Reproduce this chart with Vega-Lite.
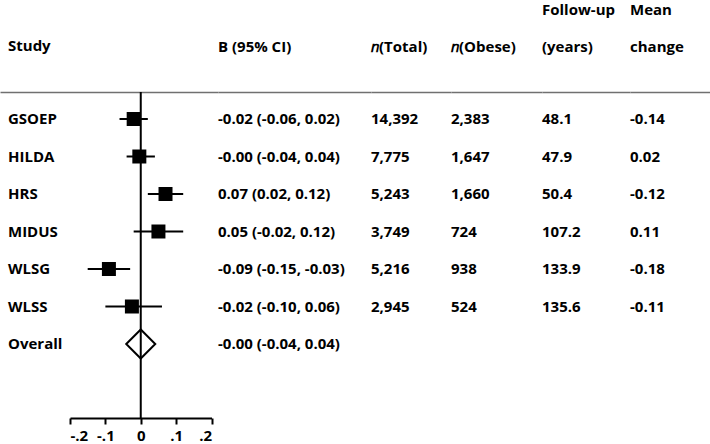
{
  "$schema": "https://vega.github.io/schema/vega-lite/v6.json",
  "padding": {"top": 3, "left": 0, "right": 0, "bottom": 0},
  "spacing": 0,
  "bounds": "flush",
  "config": {
    "font": "Open Sans",
    "view": {"stroke": null},
    "title": {"anchor": "start", "frame": "group", "fontSize": 15, "fontWeight": "bold", "font": "Open Sans", "color": "black", "lineHeight": 37, "offset": 37, "baseline": "bottom"},
    "axis": {"domainColor": "#707070", "domainWidth": 1.5, "grid": false},
    "text": {"align": "left", "baseline": "middle", "fontSize": 15, "fontWeight": "bold", "font": "Open Sans", "color": "black"}
  },
  "datasets": {
    "rows": [
      {"study": "GSOEP", "type": "study", "b": -0.02, "lo": -0.06, "hi": 0.02, "ci": "-0.02 (-0.06, 0.02)", "n_total": "14,392", "n_obese": "2,383", "followup": "48.1", "change": "-0.14"},
      {"study": "HILDA", "type": "study", "b": -0.004, "lo": -0.04, "hi": 0.04, "ci": "-0.00 (-0.04, 0.04)", "n_total": "7,775", "n_obese": "1,647", "followup": "47.9", "change": "0.02"},
      {"study": "HRS", "type": "study", "b": 0.07, "lo": 0.02, "hi": 0.12, "ci": "0.07 (0.02, 0.12)", "n_total": "5,243", "n_obese": "1,660", "followup": "50.4", "change": "-0.12"},
      {"study": "MIDUS", "type": "study", "b": 0.05, "lo": -0.02, "hi": 0.12, "ci": "0.05 (-0.02, 0.12)", "n_total": "3,749", "n_obese": "724", "followup": "107.2", "change": "0.11"},
      {"study": "WLSG", "type": "study", "b": -0.09, "lo": -0.15, "hi": -0.03, "ci": "-0.09 (-0.15, -0.03)", "n_total": "5,216", "n_obese": "938", "followup": "133.9", "change": "-0.18"},
      {"study": "WLSS", "type": "study", "b": -0.025, "lo": -0.10, "hi": 0.06, "ci": "-0.02 (-0.10, 0.06)", "n_total": "2,945", "n_obese": "524", "followup": "135.6", "change": "-0.11"},
      {"study": "Overall", "type": "overall", "b": 0.0, "lo": -0.04, "hi": 0.04, "ci": "-0.00 (-0.04, 0.04)", "n_total": "", "n_obese": "", "followup": "", "change": ""}
    ]
  },
  "hconcat": [
    {
      "width": 218,
      "height": 326,
      "title": {"text": "Study", "dx": 8},
      "data": {"name": "rows"},
      "layer": [
        {
          "transform": [{"filter": "datum.type == 'study'"}],
          "mark": {"type": "rule", "strokeWidth": 2, "color": "black"},
          "encoding": {
            "x": {"field": "lo", "type": "quantitative", "scale": {"domain": [-0.2, 0.2], "range": [70, 211.5], "nice": false, "zero": false}, "axis": {"orient": "bottom", "values": [-0.2, -0.1, 0, 0.1, 0.2], "labelExpr": "datum.value == 0 ? '0' : (datum.value < 0 ? '-' : '') + '.' + round(abs(datum.value) * 10)", "domainColor": "black", "domainWidth": 2, "tickColor": "black", "tickWidth": 2, "tickSize": 6, "labelFontSize": 15, "labelFontWeight": "bold", "labelColor": "black", "labelPadding": 4, "labelFont": "Open Sans", "title": null}},
            "x2": {"field": "hi"},
            "y": {"field": "study", "type": "nominal", "scale": {"type": "point", "domain": ["GSOEP", "HILDA", "HRS", "MIDUS", "WLSG", "WLSS", "Overall"], "range": [27, 252], "padding": 0}, "axis": null}
          }
        },
        {
          "transform": [{"filter": "datum.type == 'study'"}],
          "mark": {"type": "point", "shape": "square", "filled": true, "color": "black", "opacity": 1, "size": 196},
          "encoding": {
            "x": {"field": "b", "type": "quantitative", "scale": {"domain": [-0.2, 0.2], "range": [70, 211.5], "nice": false, "zero": false}, "axis": null},
            "y": {"field": "study", "type": "nominal"}
          }
        },
        {
          "transform": [{"filter": "datum.type == 'overall'"}],
          "mark": {"type": "point", "shape": "diamond", "filled": true, "fill": "white", "stroke": "black", "strokeWidth": 2, "opacity": 1, "size": 841},
          "encoding": {
            "x": {"field": "b", "type": "quantitative", "scale": {"domain": [-0.2, 0.2], "range": [70, 211.5], "nice": false, "zero": false}, "axis": null},
            "y": {"field": "study", "type": "nominal"}
          }
        },
        {
          "transform": [{"filter": "datum.type == 'overall'"}],
          "mark": {"type": "rule", "strokeWidth": 2, "color": "black"},
          "encoding": {
            "x": {"datum": 0, "type": "quantitative", "scale": {"domain": [-0.2, 0.2], "range": [70, 211.5], "nice": false, "zero": false}, "axis": null}
          }
        },
        {
          "transform": [{"fold": ["study"], "as": ["col", "txt"]}],
          "mark": {"type": "text", "dx": 8},
          "encoding": {
            "x": {"field": "col", "type": "nominal", "bandPosition": 0, "scale": {"type": "band", "paddingInner": 0, "paddingOuter": 0}, "axis": {"orient": "top", "domain": true, "ticks": false, "labels": false, "title": null}},
            "y": {"field": "study", "type": "nominal"},
            "text": {"field": "txt"}
          }
        }
      ],
      "resolve": {"scale": {"x": "independent"}, "axis": {"x": "independent"}}
    },
    {
      "width": 153,
      "height": 326,
      "title": "B (95% CI)",
      "data": {"name": "rows"},
      "transform": [{"fold": ["ci"], "as": ["col", "txt"]}],
      "mark": "text",
      "encoding": {
        "x": {"field": "col", "type": "nominal", "bandPosition": 0, "scale": {"type": "band", "paddingInner": 0, "paddingOuter": 0}, "axis": {"orient": "top", "domain": true, "ticks": false, "labels": false, "title": null}},
        "y": {"field": "study", "type": "nominal", "scale": {"type": "point", "domain": ["GSOEP", "HILDA", "HRS", "MIDUS", "WLSG", "WLSS", "Overall"], "range": [27, 252], "padding": 0}, "axis": null},
        "text": {"field": "txt"}
      }
    },
    {
      "width": 80,
      "height": 326,
      "title": "𝑛(Total)",
      "data": {"name": "rows"},
      "transform": [{"fold": ["n_total"], "as": ["col", "txt"]}],
      "mark": "text",
      "encoding": {
        "x": {"field": "col", "type": "nominal", "bandPosition": 0, "scale": {"type": "band", "paddingInner": 0, "paddingOuter": 0}, "axis": {"orient": "top", "domain": true, "ticks": false, "labels": false, "title": null}},
        "y": {"field": "study", "type": "nominal", "scale": {"type": "point", "domain": ["GSOEP", "HILDA", "HRS", "MIDUS", "WLSG", "WLSS", "Overall"], "range": [27, 252], "padding": 0}, "axis": null},
        "text": {"field": "txt"}
      }
    },
    {
      "width": 91,
      "height": 326,
      "title": "𝑛(Obese)",
      "data": {"name": "rows"},
      "transform": [{"fold": ["n_obese"], "as": ["col", "txt"]}],
      "mark": "text",
      "encoding": {
        "x": {"field": "col", "type": "nominal", "bandPosition": 0, "scale": {"type": "band", "paddingInner": 0, "paddingOuter": 0}, "axis": {"orient": "top", "domain": true, "ticks": false, "labels": false, "title": null}},
        "y": {"field": "study", "type": "nominal", "scale": {"type": "point", "domain": ["GSOEP", "HILDA", "HRS", "MIDUS", "WLSG", "WLSS", "Overall"], "range": [27, 252], "padding": 0}, "axis": null},
        "text": {"field": "txt"}
      }
    },
    {
      "width": 88,
      "height": 326,
      "title": {"text": ["Follow-up", "(years)"]},
      "data": {"name": "rows"},
      "transform": [{"fold": ["followup"], "as": ["col", "txt"]}],
      "mark": "text",
      "encoding": {
        "x": {"field": "col", "type": "nominal", "bandPosition": 0, "scale": {"type": "band", "paddingInner": 0, "paddingOuter": 0}, "axis": {"orient": "top", "domain": true, "ticks": false, "labels": false, "title": null}},
        "y": {"field": "study", "type": "nominal", "scale": {"type": "point", "domain": ["GSOEP", "HILDA", "HRS", "MIDUS", "WLSG", "WLSS", "Overall"], "range": [27, 252], "padding": 0}, "axis": null},
        "text": {"field": "txt"}
      }
    },
    {
      "width": 80,
      "height": 326,
      "title": {"text": ["Mean", "change"]},
      "data": {"name": "rows"},
      "transform": [{"fold": ["change"], "as": ["col", "txt"]}],
      "mark": "text",
      "encoding": {
        "x": {"field": "col", "type": "nominal", "bandPosition": 0, "scale": {"type": "band", "paddingInner": 0, "paddingOuter": 0}, "axis": {"orient": "top", "domain": true, "ticks": false, "labels": false, "title": null}},
        "y": {"field": "study", "type": "nominal", "scale": {"type": "point", "domain": ["GSOEP", "HILDA", "HRS", "MIDUS", "WLSG", "WLSS", "Overall"], "range": [27, 252], "padding": 0}, "axis": null},
        "text": {"field": "txt"}
      }
    }
  ]
}
